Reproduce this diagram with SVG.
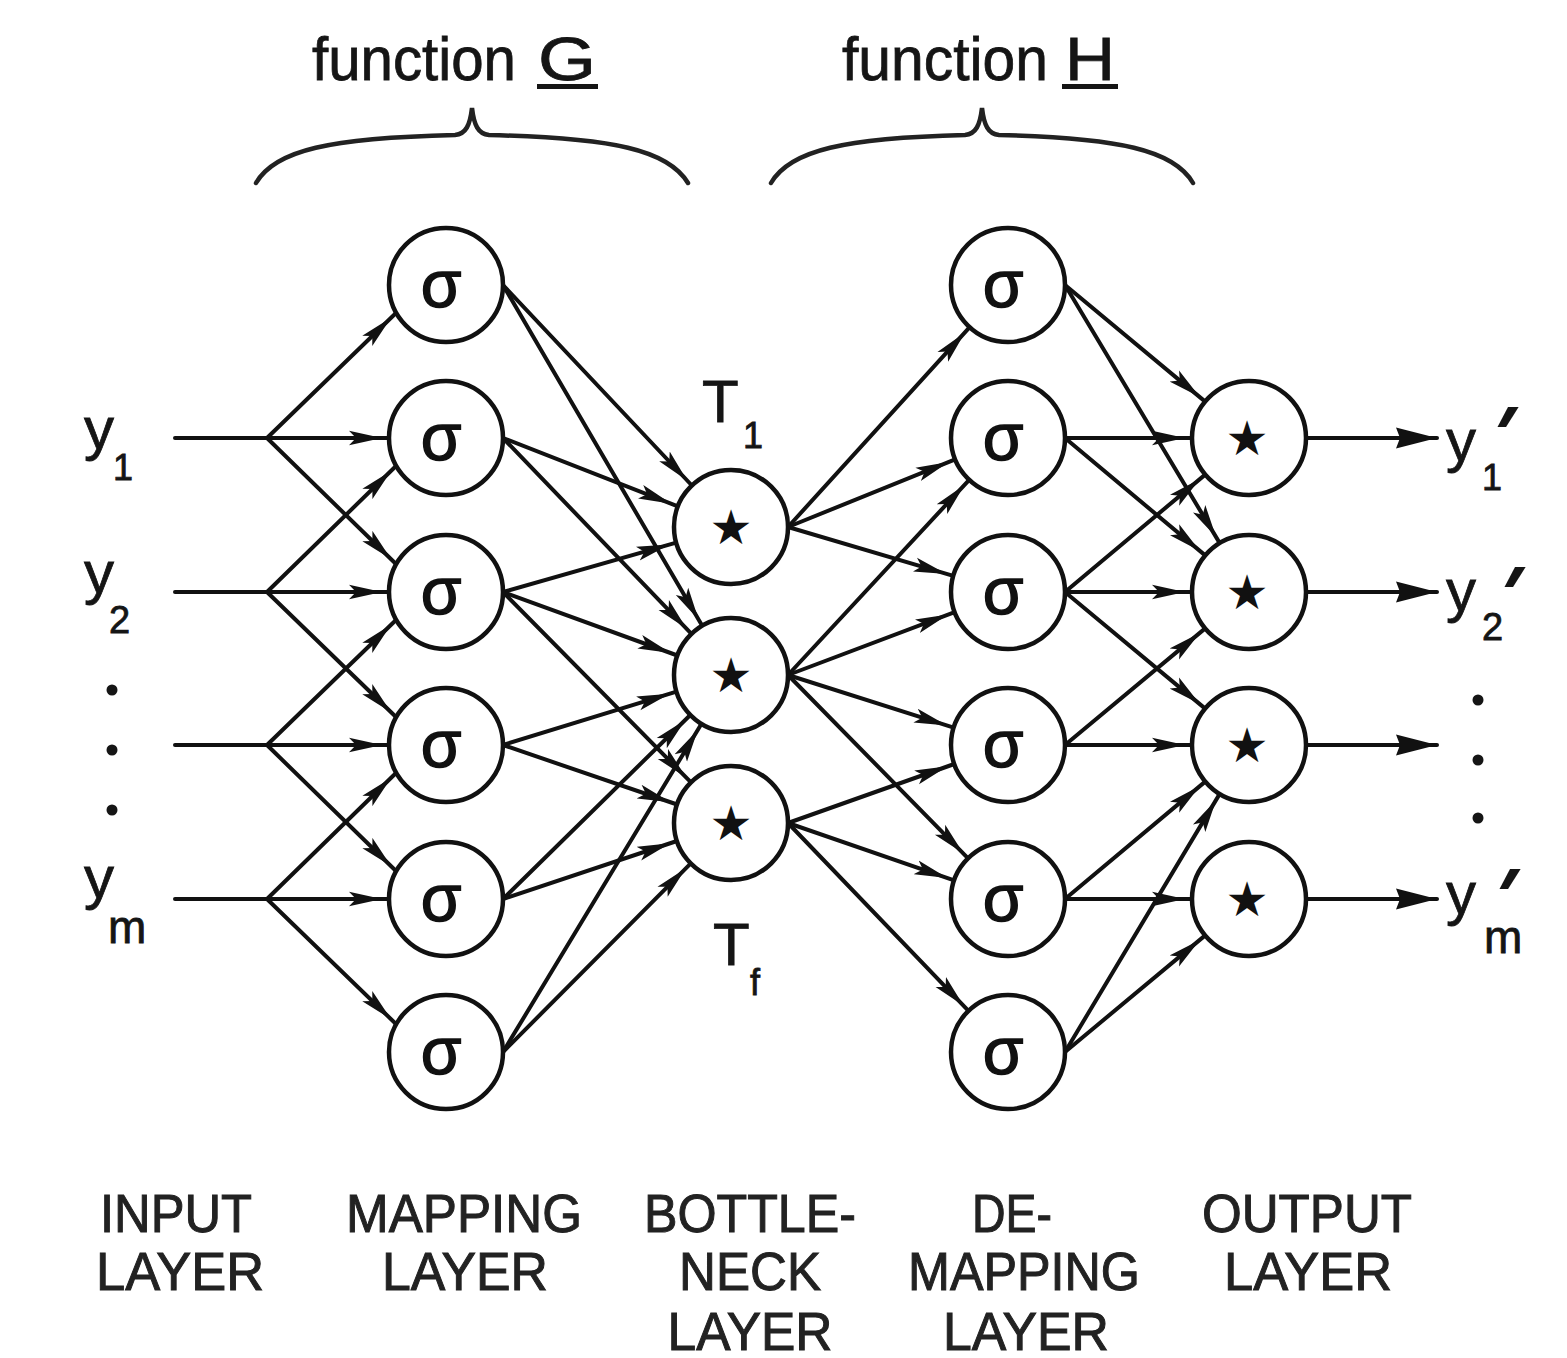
<svg xmlns="http://www.w3.org/2000/svg" width="1567" height="1358" viewBox="0 0 1567 1358">
<style>
.c{stroke:#111;stroke-width:4;fill:none;stroke-linecap:round}
.n{fill:#fff;stroke:#111;stroke-width:4.5}
.t{font-family:"Liberation Sans",Arial,sans-serif;fill:#151515;stroke:#151515;stroke-width:0.8}
.sig{font-family:"Liberation Sans",Arial,sans-serif;font-size:66px;text-anchor:middle;fill:#111;stroke:#111;stroke-width:1.4}
.star{font-family:"DejaVu Sans",sans-serif;font-size:48px;text-anchor:middle;fill:#111}
.lab{font-family:"Liberation Sans",Arial,sans-serif;font-size:54px;text-anchor:middle;fill:#222;stroke:#222;stroke-width:1}
.pr{font-family:"Liberation Sans",Arial,sans-serif;font-weight:bold;font-size:80px;fill:#151515}
.dot{fill:#151515}
.br{stroke:#222;stroke-width:4.5;fill:none;stroke-linecap:round}
</style>
<defs>
<marker id="ah" markerUnits="userSpaceOnUse" orient="auto" refX="40" refY="8" markerWidth="44" markerHeight="16">
<path d="M0,0.8 L33,8 L0,15.2 L7,8 Z" fill="#111"/>
</marker>
<marker id="ah2" markerUnits="userSpaceOnUse" orient="auto" refX="42" refY="11" markerWidth="44" markerHeight="22">
<path d="M42,11 L1,0.5 L5,11 L1,21.5 Z" fill="#111"/>
</marker>
</defs>
<rect width="1567" height="1358" fill="#fff"/>

<g id="braces">
<path class="br" d="M256,183 C275,150 330,138 455,135 C466,134 470,125 472,108 C474,125 478,134 489,135 C614,138 668,150 688,183"/>
<path class="br" d="M771,183 C790,150 845,138 965,135 C976,134 980,125 982,108 C984,125 988,134 999,135 C1119,138 1174,150 1193,183"/>
</g>
<g id="titles">
<text class="t" x="312" y="80" font-size="62" textLength="204" lengthAdjust="spacingAndGlyphs">function</text>
<text class="t" x="538" y="80" font-size="62" textLength="58" lengthAdjust="spacingAndGlyphs">G</text>
<rect x="537" y="84" width="61" height="5" fill="#151515"/>
<text class="t" x="842" y="80" font-size="62" textLength="206" lengthAdjust="spacingAndGlyphs">function</text>
<text class="t" x="1065" y="80" font-size="62" textLength="50" lengthAdjust="spacingAndGlyphs">H</text>
<rect x="1062" y="84" width="56" height="5" fill="#151515"/>
</g>

<g id="connectors">
<!-- inputs to mapping -->
<line class="c" x1="175" y1="438" x2="389" y2="438" marker-end="url(#ah)"/>
<line class="c" x1="267" y1="438" x2="396" y2="313" marker-end="url(#ah)"/>
<line class="c" x1="267" y1="438" x2="396" y2="564" marker-end="url(#ah)"/>
<line class="c" x1="175" y1="592" x2="389" y2="592" marker-end="url(#ah)"/>
<line class="c" x1="267" y1="592" x2="396" y2="466" marker-end="url(#ah)"/>
<line class="c" x1="267" y1="592" x2="396" y2="717" marker-end="url(#ah)"/>
<line class="c" x1="175" y1="745" x2="389" y2="745" marker-end="url(#ah)"/>
<line class="c" x1="267" y1="745" x2="396" y2="620" marker-end="url(#ah)"/>
<line class="c" x1="267" y1="745" x2="396" y2="871" marker-end="url(#ah)"/>
<line class="c" x1="175" y1="899" x2="389" y2="899" marker-end="url(#ah)"/>
<line class="c" x1="267" y1="899" x2="396" y2="773" marker-end="url(#ah)"/>
<line class="c" x1="267" y1="899" x2="396" y2="1024" marker-end="url(#ah)"/>
<!-- mapping to bottleneck -->
<line class="c" x1="503" y1="285" x2="691.9" y2="485.5" marker-end="url(#ah)"/>
<line class="c" x1="503" y1="285" x2="702.2" y2="625.8" marker-end="url(#ah)"/>
<line class="c" x1="503" y1="438" x2="677.9" y2="506.3" marker-end="url(#ah)"/>
<line class="c" x1="503" y1="438" x2="691.5" y2="633.9" marker-end="url(#ah)"/>
<line class="c" x1="503" y1="592" x2="676.2" y2="542.6" marker-end="url(#ah)"/>
<line class="c" x1="503" y1="592" x2="677.4" y2="655.5" marker-end="url(#ah)"/>
<line class="c" x1="503" y1="592" x2="691.0" y2="782.4" marker-end="url(#ah)"/>
<line class="c" x1="503" y1="745" x2="676.5" y2="691.7" marker-end="url(#ah)"/>
<line class="c" x1="503" y1="745" x2="677.1" y2="804.5" marker-end="url(#ah)"/>
<line class="c" x1="503" y1="899" x2="690.3" y2="715.0" marker-end="url(#ah)"/>
<line class="c" x1="503" y1="899" x2="676.9" y2="841.0" marker-end="url(#ah)"/>
<line class="c" x1="503" y1="1052" x2="701.5" y2="723.8" marker-end="url(#ah)"/>
<line class="c" x1="503" y1="1052" x2="690.8" y2="863.4" marker-end="url(#ah)"/>
<!-- bottleneck to de-mapping -->
<line class="c" x1="788" y1="527" x2="969.7" y2="327.2" marker-end="url(#ah)"/>
<line class="c" x1="788" y1="527" x2="955.2" y2="459.4" marker-end="url(#ah)"/>
<line class="c" x1="788" y1="527" x2="953.3" y2="575.9" marker-end="url(#ah)"/>
<line class="c" x1="788" y1="675" x2="969.2" y2="479.8" marker-end="url(#ah)"/>
<line class="c" x1="788" y1="675" x2="954.7" y2="612.1" marker-end="url(#ah)"/>
<line class="c" x1="788" y1="675" x2="953.7" y2="727.7" marker-end="url(#ah)"/>
<line class="c" x1="788" y1="675" x2="968.1" y2="858.3" marker-end="url(#ah)"/>
<line class="c" x1="788" y1="823" x2="954.3" y2="764.0" marker-end="url(#ah)"/>
<line class="c" x1="788" y1="823" x2="954.1" y2="880.4" marker-end="url(#ah)"/>
<line class="c" x1="788" y1="823" x2="968.5" y2="1010.9" marker-end="url(#ah)"/>
<!-- de-mapping to output -->
<line class="c" x1="1065" y1="285" x2="1205.2" y2="401.6" marker-end="url(#ah)"/>
<line class="c" x1="1065" y1="285" x2="1219.7" y2="543.1" marker-end="url(#ah)"/>
<line class="c" x1="1065" y1="438" x2="1192" y2="438" marker-end="url(#ah)"/>
<line class="c" x1="1065" y1="438" x2="1205.2" y2="555.4" marker-end="url(#ah)"/>
<line class="c" x1="1065" y1="592" x2="1205.2" y2="474.6" marker-end="url(#ah)"/>
<line class="c" x1="1065" y1="592" x2="1192" y2="592" marker-end="url(#ah)"/>
<line class="c" x1="1065" y1="592" x2="1205.2" y2="708.6" marker-end="url(#ah)"/>
<line class="c" x1="1065" y1="745" x2="1205.2" y2="628.4" marker-end="url(#ah)"/>
<line class="c" x1="1065" y1="745" x2="1192" y2="745" marker-end="url(#ah)"/>
<line class="c" x1="1065" y1="899" x2="1205.2" y2="781.6" marker-end="url(#ah)"/>
<line class="c" x1="1065" y1="899" x2="1192" y2="899" marker-end="url(#ah)"/>
<line class="c" x1="1065" y1="1052" x2="1219.7" y2="793.9" marker-end="url(#ah)"/>
<line class="c" x1="1065" y1="1052" x2="1205.2" y2="935.4" marker-end="url(#ah)"/>
<!-- outputs -->
<line class="c" x1="1306" y1="438" x2="1437" y2="438" marker-end="url(#ah2)"/>
<line class="c" x1="1306" y1="592" x2="1437" y2="592" marker-end="url(#ah2)"/>
<line class="c" x1="1306" y1="745" x2="1437" y2="745" marker-end="url(#ah2)"/>
<line class="c" x1="1306" y1="899" x2="1437" y2="899" marker-end="url(#ah2)"/>
</g>

<g id="input-labels">
<text class="t" x="84" y="449" font-size="60">y</text><text class="t" x="113" y="480" font-size="36">1</text>
<text class="t" x="84" y="593" font-size="60">y</text><text class="t" x="109" y="633" font-size="38">2</text>
<circle class="dot" cx="112" cy="690" r="5.5"/>
<circle class="dot" cx="112" cy="750" r="5.5"/>
<circle class="dot" cx="112" cy="810" r="5.5"/>
<text class="t" x="84" y="898" font-size="60">y</text><text class="t" x="108" y="943" font-size="46">m</text>
</g>

<g id="m0"><circle class="n" cx="446" cy="285" r="57"/><text class="sig" x="441" y="307">σ</text></g>
<g id="m1"><circle class="n" cx="446" cy="438" r="57"/><text class="sig" x="441" y="460">σ</text></g>
<g id="m2"><circle class="n" cx="446" cy="592" r="57"/><text class="sig" x="441" y="614">σ</text></g>
<g id="m3"><circle class="n" cx="446" cy="745" r="57"/><text class="sig" x="441" y="767">σ</text></g>
<g id="m4"><circle class="n" cx="446" cy="899" r="57"/><text class="sig" x="441" y="921">σ</text></g>
<g id="m5"><circle class="n" cx="446" cy="1052" r="57"/><text class="sig" x="441" y="1074">σ</text></g>

<g id="b0"><circle class="n" cx="731" cy="527" r="57"/><text class="star" x="731" y="544">★</text></g>
<g id="b1"><circle class="n" cx="731" cy="675" r="57"/><text class="star" x="731" y="692">★</text></g>
<g id="b2"><circle class="n" cx="731" cy="823" r="57"/><text class="star" x="731" y="840">★</text></g>
<g id="t-labels">
<text class="t" x="702" y="422" font-size="60">T</text><text class="t" x="743" y="448" font-size="36">1</text>
<text class="t" x="713" y="965" font-size="60">T</text><text class="t" x="750" y="995" font-size="36">f</text>
</g>

<g id="d0"><circle class="n" cx="1008" cy="285" r="57"/><text class="sig" x="1003" y="307">σ</text></g>
<g id="d1"><circle class="n" cx="1008" cy="438" r="57"/><text class="sig" x="1003" y="460">σ</text></g>
<g id="d2"><circle class="n" cx="1008" cy="592" r="57"/><text class="sig" x="1003" y="614">σ</text></g>
<g id="d3"><circle class="n" cx="1008" cy="745" r="57"/><text class="sig" x="1003" y="767">σ</text></g>
<g id="d4"><circle class="n" cx="1008" cy="899" r="57"/><text class="sig" x="1003" y="921">σ</text></g>
<g id="d5"><circle class="n" cx="1008" cy="1052" r="57"/><text class="sig" x="1003" y="1074">σ</text></g>

<g id="o0"><circle class="n" cx="1249" cy="438" r="57"/><text class="star" x="1247" y="455">★</text></g>
<g id="o1"><circle class="n" cx="1249" cy="592" r="57"/><text class="star" x="1247" y="609">★</text></g>
<g id="o2"><circle class="n" cx="1249" cy="745" r="57"/><text class="star" x="1247" y="762">★</text></g>
<g id="o3"><circle class="n" cx="1249" cy="899" r="57"/><text class="star" x="1247" y="916">★</text></g>

<g id="output-labels">
<text class="t" x="1446" y="461" font-size="60">y</text><text class="t" x="1482" y="490" font-size="36">1</text><text class="pr" transform="translate(1472,462) skewX(-30)">'</text>
<text class="t" x="1446" y="611" font-size="60">y</text><text class="t" x="1482" y="640" font-size="38">2</text><text class="pr" transform="translate(1479,622) skewX(-30)">'</text>
<circle class="dot" cx="1478" cy="700" r="5.5"/>
<circle class="dot" cx="1478" cy="760" r="5.5"/>
<circle class="dot" cx="1478" cy="818" r="5.5"/>
<text class="t" x="1446" y="914" font-size="60">y</text><text class="t" x="1484" y="953" font-size="46">m</text><text class="pr" transform="translate(1474,924) skewX(-30)">'</text>
</g>

<g id="layer-labels">
<text class="lab" x="176" y="1232" textLength="152" lengthAdjust="spacingAndGlyphs">INPUT</text>
<text class="lab" x="180" y="1290" textLength="168" lengthAdjust="spacingAndGlyphs">LAYER</text>
<text class="lab" x="464" y="1232" textLength="236" lengthAdjust="spacingAndGlyphs">MAPPING</text>
<text class="lab" x="465" y="1290" textLength="166" lengthAdjust="spacingAndGlyphs">LAYER</text>
<text class="lab" x="750" y="1232" textLength="212" lengthAdjust="spacingAndGlyphs">BOTTLE-</text>
<text class="lab" x="750" y="1290" textLength="142" lengthAdjust="spacingAndGlyphs">NECK</text>
<text class="lab" x="750" y="1350" textLength="165" lengthAdjust="spacingAndGlyphs">LAYER</text>
<text class="lab" x="1012" y="1232" textLength="80" lengthAdjust="spacingAndGlyphs">DE-</text>
<text class="lab" x="1024" y="1290" textLength="232" lengthAdjust="spacingAndGlyphs">MAPPING</text>
<text class="lab" x="1026" y="1350" textLength="166" lengthAdjust="spacingAndGlyphs">LAYER</text>
<text class="lab" x="1307" y="1232" textLength="210" lengthAdjust="spacingAndGlyphs">OUTPUT</text>
<text class="lab" x="1308" y="1290" textLength="168" lengthAdjust="spacingAndGlyphs">LAYER</text>
</g>
</svg>
